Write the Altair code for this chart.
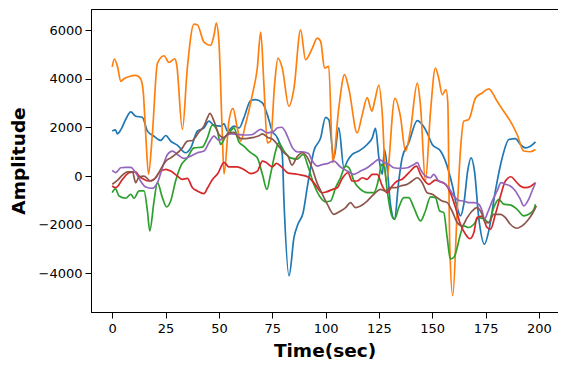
import altair as alt
import pandas as pd

# ---- data (x = Time(sec), y = Amplitude) ----
blue_x = [0, 1.5, 2.4, 4, 6.3, 8.7, 11, 14.1, 16.5, 19.6, 22.7, 25.1, 27.4, 30.5, 34.4, 36.8, 39.9, 43, 45.3, 47.7,
          50.8, 52.4, 54, 57, 59.5, 61.7, 64.9, 67.2, 70.4, 72.7, 75, 77.4, 79.7, 80.5, 82.9, 85.2, 87, 89.5, 91.4, 94.5,
          97.7, 100, 101.5, 103.9, 106.2, 108.6, 110.2, 112.5, 115.6, 119.5, 121.9, 123.4, 125, 126.6, 127.6, 128.9,
          130.4, 132.3, 134.3, 135.9, 139, 143, 145.3, 147.6, 150, 153.9, 156.2, 159.3, 161.7, 163.2, 164.8, 166.6,
          168.2, 169.8, 171.8, 174.5, 176.5, 179.6, 182.8, 185.9, 189, 191.3, 193.7, 196, 198.4]
blue_y = [1850, 1900, 1740, 1900, 2330, 2640, 2465, 2420, 1850, 1640, 1465, 1670, 1440, 1275, 960, 1160, 1850, 1985,
          2260, 2095, 2055, 2150, 1850, 2055, 1985, 2395, 3110, 3150, 3010, 2530, 1850, 1575, 890, -1030, -4107, -2530,
          -2000, -1500, -480, 1030, 1575, 2420, 2330, 750, 1985, 340, 616, 890, 1030, 1300, 1575, 1960, 750, 70, 1095,
          340, -1160, -1780, -205, 750, 1370, 2285, 2120, 1780, 1300, 1030, 616, -340, -1300, -1640, -1160, 205, 750,
          205, -1710, -2805, -2260, -615, 750, 1505, 1545, 1300, 1160, 1230, 1410]

orange_x = [0, 1, 2.5, 4, 5.5, 8, 11, 13.3, 14.5, 15.7, 17, 18.8, 21.2, 24.3, 26.6, 29.3, 30.2, 32.9, 35.2, 38.3,
            39.9, 43, 46.1, 47.7, 48.8, 50, 51.6, 52.4, 54.7, 56.6, 58.6, 60.2, 62.5, 65.7, 68, 69.6, 71.1, 72.7,
            74.2, 76.1, 77.7, 79.7, 82.8, 85.2, 88.3, 90.6, 93.8, 96.1, 97.7, 99.5, 101.5, 103.4, 106.2, 108.9, 111,
            114.8, 117.2, 119.5, 121.7, 123, 125, 126.5, 128.4, 132.5, 135, 137.5, 139.8, 143, 144.5, 146.8, 149.2,
            151.5, 153, 154.7, 156.5, 157.3, 158.2, 159.6, 161.7, 163.2, 164.8, 167.1, 170.3, 173.4, 176.5, 180.4,
            183.5, 186.6, 189.8, 192.9, 196, 198.4]
orange_y = [4500, 4820, 4500, 3900, 4010, 4100, 4150, 4010, 3500, 1720, 80, 1720, 4650, 4955, 4680, 4830, 4600, 1920,
            4450, 6255, 6230, 5515, 5380, 5800, 6296, 5545, 1720, 80, 2260, 2790, 1985, 1440, 2130, 3365, 4450, 5925,
            3765, 1370, 1440, 3765, 4860, 4450, 2875, 3625, 6025, 4790, 5270, 5680, 5545, 4450, 4520, 550, 2805, 4175,
            3550, 1780, 2530, 3230, 2670, 3080, 3750, 2670, -250, 3200, 2500, 1030, 1900, 3830, 2900, -200, 2670, 4450,
            4040, 3355, 3560, 3000, -2805, -4930, -1440, 1030, 2260, 2330, 3215, 3420, 3590, 3080, 2670, 2260, 1710,
            1030, 1000, 1095]

green_x = [0, 1.5, 3.2, 6.3, 8.7, 10.2, 12.6, 14.9, 16.5, 17.6, 19.6, 21.2, 23.5, 25.5, 27.4, 29.7, 32.1, 35.2, 38.3,
           42.2, 44.6, 46.9, 49.3, 50.8, 53.2, 55.5, 57, 59.4, 61.7, 64.9, 68, 70.4, 72.5, 74.2, 76.6, 78, 80.5, 83.6,
           86.7, 89.5, 92, 94.5, 97.7, 100, 102.3, 104.7, 107, 109.4, 111, 113.3, 116.4, 119.5, 122.6, 125, 126.2,
           127.6, 128.9, 130.8, 132.3, 134.3, 136.7, 139, 141.4, 144.5, 146.8, 149.2, 151.5, 153.5, 155.4, 157, 158.5,
           160.1, 161.7, 163.2, 164.8, 167.1, 169.5, 171.8, 174.5, 176.5, 178.8, 181.2, 183.5, 186.6, 189.8, 192.9,
           195.2, 197.5, 198.4]
green_y = [-685, -530, -820, -915, -750, -915, -615, -615, -1440, -2260, -1030, -275, -890, -1275, -1030, -205, 410, 750,
           1160, 1190, 1575, 2095, 1850, 1300, 1640, 1850, 1985, 1400, 1230, 960, 750, 70, -550, 70, 1030, 1370, 1030,
           750, 700, 890, 340, -340, -890, -1060, -1030, -480, -70, 410, 340, -205, -550, -685, -685, -70, 480, 340,
           -615, -1575, -1780, -1300, -890, -890, -1300, -1850, -1440, -860, -890, -1440, -1505, -2530, -3420, -3355,
           -2945, -2395, -2055, -2120, -1985, -1710, -1780, -1915, -1300, -960, -1160, -1190, -1370, -1640, -1575,
           -1400, -1160]

red_x = [0, 1.6, 4.8, 7.9, 11, 12.6, 14.9, 17.2, 19.6, 21.9, 25.1, 27.4, 30.5, 32.9, 35.2, 37.6, 39.9, 43, 44.6, 46.9,
         49.5, 52.4, 54.7, 58.6, 61.5, 65, 68, 70.4, 72.3, 75, 77, 79.5, 82.5, 85.5, 88.7, 91.8, 94.8, 98.4, 100.5,
         103.3, 105.5, 107.8, 110.5, 112.5, 114.8, 117.2, 119.5, 121.9, 124.2, 126.6, 128.9, 131.2, 133.6, 135.9, 139,
         142.6, 144.5, 146.5, 148.4, 151.5, 153.9, 156.2, 158.5, 160.9, 163.2, 165.6, 167.7, 169.5, 171, 173.4, 175.7,
         177.3, 179.6, 182, 184.3, 186.9, 189, 191.3, 193.7, 196, 198.4]
red_y = [-410, -480, -135, 135, 175, 0, -135, -205, -135, 135, 275, 205, 0, -135, -100, -480, -615, -725, -505, -150,
         100, 560, 380, 380, 280, 100, 200, 616, 550, 380, 520, 370, 120, 90, 40, -40, -310, -690, -650, -550, -480,
         -100, 135, -205, -205, -70, -135, 70, 70, -410, -685, -410, -205, -135, 135, 410, 70, -205, -340, -170, -240,
         -340, -685, -1300, -1985, -2395, -2580, -2330, -1710, -1650, -2120, -2190, -1575, -820, -205, -30, -205, -410,
         -480, -430, -275]

purple_x = [0, 1.6, 4, 6.3, 8.7, 11, 13.3, 15.7, 18.8, 21.2, 23.5, 25.9, 28.2, 30.5, 33.6, 36.8, 39.9, 43, 45.3, 47.7,
            50, 52.4, 55.5, 58.6, 61.7, 65.3, 69.6, 72.7, 75.5, 77.5, 79.5, 81, 82.3, 84.6, 87, 89.1, 92, 93.8, 96.1,
            98.4, 100.8, 103.9, 107, 110.2, 113.3, 116.4, 119.5, 122.6, 125, 127.6, 129.7, 132, 135.1, 138.3, 141.4,
            143, 144.5, 146.8, 149.2, 150.7, 153, 155.4, 157.7, 160.1, 162.4, 164.8, 167.1, 169.5, 171.8, 173.4, 174.5,
            176, 178.1, 180.4, 182.3, 184.3, 186.6, 189, 191.3, 192.9, 195.2, 196.8, 198.4]
purple_y = [230, 140, 340, 360, 360, 135, -205, -450, -505, -275, 340, 890, 1030, 890, 725, 820, 960, 1030, 1370, 1640,
            1465, 1600, 1740, 1720, 1690, 1700, 1920, 1780, 1830, 1990, 2010, 1850, 1600, 1150, 990, 1000, 930, 616,
            410, 470, 510, 616, 370, 205, 70, 205, 340, 550, 685, 550, 480, 340, 315, 340, 480, 550, 275, 0, -70, 70,
            -205, -275, -480, -820, -1000, -1030, -1095, -1095, -1160, -1440, -1780, -1500, -1030, -615, -275, -340,
            -410, -615, -960, -1230, -960, -615, -275]

brown_x = [0, 2.4, 4.8, 7.1, 9.5, 11, 12.6, 14.9, 18, 20.4, 22.7, 25.1, 27.4, 29.7, 32.9, 35.2, 37.6, 40.7, 43, 44.6,
           45.8, 47.7, 50, 52.4, 54.7, 57, 59, 61, 64.9, 68.8, 70.4, 72.7, 75.4, 77.4, 80.5, 82.5, 84.2, 86.7, 89.1,
           91.4, 93.8, 96.1, 97.7, 100.8, 103.9, 107, 109.4, 111.7, 114, 116.4, 119.5, 122.6, 125.8, 128.1, 130.4,
           132.8, 135.1, 138.3, 140.6, 143, 145.3, 147.6, 150, 152.3, 154.7, 157, 159.3, 161.7, 164, 166.4, 168.7,
           171, 173.4, 174.9, 176.5, 178.8, 182, 184.3, 186.6, 189.8, 192.1, 194.5, 196.8, 198.8]
brown_y = [-340, -180, 40, 175, 175, -275, -30, 0, -205, -70, 275, 616, 750, 890, 1160, 1440, 1465, 1820, 2055, 2395,
           2580, 2260, 1710, 1575, 1780, 1800, 1600, 1540, 1575, 1660, 1740, 1600, 1500, 1300, 960, 800, 450, 800, 960,
           780, 300, -300, -600, -1160, -1575, -1440, -1300, -1095, -1300, -1230, -1030, -750, -550, -615, -480, -480,
           -410, -340, -205, -70, -275, -685, -750, -890, -1030, -1095, -1440, -1915, -2055, -1710, -1440, -1300, -1575,
           -1915, -1915, -1575, -1575, -1710, -1985, -2150, -2055, -1850, -1575, -1230]

series = [
    ("blue", blue_x, blue_y, "#1f77b4"),
    ("orange", orange_x, orange_y, "#ff7f0e"),
    ("green", green_x, green_y, "#2ca02c"),
    ("red", red_x, red_y, "#d62728"),
    ("purple", purple_x, purple_y, "#9467bd"),
    ("brown", brown_x, brown_y, "#8c564b"),
]

x_ticks = [0, 25, 50, 75, 100, 125, 150, 175, 200]
y_ticks = [-4000, -2000, 0, 2000, 4000, 6000]

x_scale = alt.Scale(domain=[-9.95, 208.95], nice=False, zero=False)
y_scale = alt.Scale(domain=[-5600, 6880], nice=False, zero=False)

x_axis = alt.Axis(values=x_ticks, title="Time(sec)", grid=False, format="d")
y_axis = alt.Axis(values=y_ticks, title="Amplitude", grid=False, format="d")

layers = []
for name, xs, ys, color in series:
    df = pd.DataFrame({"t": xs, "amp": ys})
    layers.append(
        alt.Chart(df).mark_line(color=color, strokeWidth=1.7, clip=True,
                                interpolate="monotone").encode(
            x=alt.X("t:Q", scale=x_scale, axis=x_axis),
            y=alt.Y("amp:Q", scale=y_scale, axis=y_axis),
        )
    )

chart = alt.layer(*layers).properties(
    width=467,
    height=303,
    autosize=alt.AutoSizeParams(type="none"),
    padding={"left": 83, "top": 1, "right": 0, "bottom": 52},
    background="white",
).configure_view(
    stroke="black", strokeWidth=1
).configure_axis(
    domainColor="black",
    tickColor="black",
    tickSize=6,
    labelFont="DejaVu Sans",
    labelFontSize=13,
    labelColor="black",
    titleFont="DejaVu Sans",
    titleFontSize=18.5,
    titleFontWeight="bold",
    titleColor="black",
).configure_axisX(
    labelPadding=4, titlePadding=6
).configure_axisY(
    labelPadding=3, titlePadding=10
)

chart.save("out.html", embed_options={"renderer": "svg", "actions": False})
